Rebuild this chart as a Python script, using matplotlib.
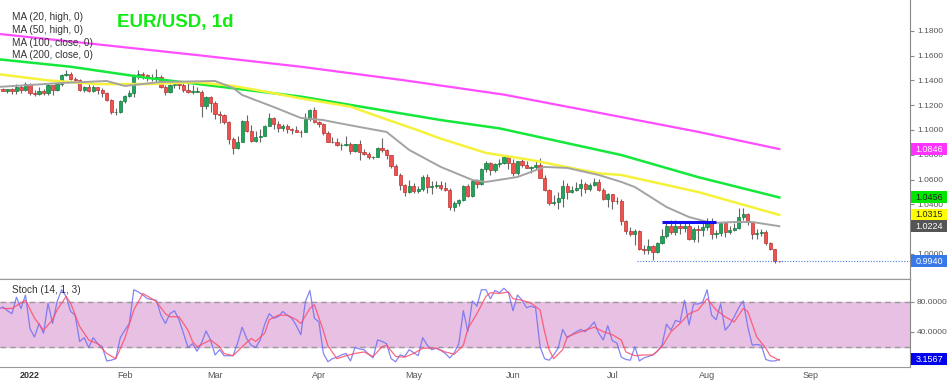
import matplotlib.pyplot as plt
import matplotlib.transforms as mtransforms
from matplotlib.patches import Rectangle
import pandas as pd

plt.rcParams['font.family'] = ['Liberation Sans', 'DejaVu Sans']

# daily bars, 23 Dec 2021 -> 23 Aug 2022 (weekdays only)
dates = pd.bdate_range('2021-12-23', '2022-08-23')

opens = [1.1329, 1.1328, 1.1318, 1.1329, 1.1311, 1.1350, 1.1326,
         1.1370, 1.1297, 1.1287, 1.1313, 1.1296, 1.1360, 1.1326,
         1.1369, 1.1442, 1.1454, 1.1413, 1.1405, 1.1325, 1.1343,
         1.1311, 1.1344, 1.1325, 1.1302, 1.1240, 1.1143, 1.1146,
         1.1235, 1.1273, 1.1302, 1.1440, 1.1455, 1.1441, 1.1416,
         1.1421, 1.1425, 1.1349, 1.1307, 1.1359, 1.1374, 1.1360,
         1.1322, 1.1308, 1.1308, 1.1310, 1.1192, 1.1267, 1.1218,
         1.1126, 1.1120, 1.1064, 1.0930, 1.0856, 1.0903, 1.1074,
         1.0989, 1.0913, 1.0942, 1.0955, 1.1036, 1.1094, 1.1051,
         1.1015, 1.1031, 1.1004, 1.0998, 1.0984, 1.0983, 1.1086,
         1.1159, 1.1067, 1.1046, 1.0972, 1.0904, 1.0900, 1.0877,
         1.0877, 1.0886, 1.0830, 1.0888, 1.0825, 1.0807, 1.0780,
         1.0786, 1.0853, 1.0836, 1.0797, 1.0713, 1.0640, 1.0559,
         1.0500, 1.0545, 1.0507, 1.0524, 1.0620, 1.0540, 1.0550,
         1.0560, 1.0530, 1.0513, 1.0380, 1.0410, 1.0437, 1.0550,
         1.0465, 1.0585, 1.0562, 1.0689, 1.0735, 1.0677, 1.0725,
         1.0735, 1.0780, 1.0733, 1.0650, 1.0750, 1.0719, 1.0697,
         1.0705, 1.0717, 1.0615, 1.0518, 1.0410, 1.0420, 1.0448,
         1.0550, 1.0496, 1.0512, 1.0535, 1.0567, 1.0522, 1.0554,
         1.0583, 1.0519, 1.0442, 1.0484, 1.0425, 1.0424, 1.0266,
         1.0182, 1.0160, 1.0185, 1.0041, 1.0036, 1.0061, 1.0018,
         1.0087, 1.0143, 1.0226, 1.0180, 1.0229, 1.0210, 1.0223,
         1.0117, 1.0198, 1.0197, 1.0221, 1.0260, 1.0163, 1.0168,
         1.0247, 1.0181, 1.0197, 1.0211, 1.0298, 1.0320, 1.0259,
         1.0160, 1.0169, 1.0177, 1.0088, 1.0038, 0.9942]
highs = [1.1342, 1.1340, 1.1333, 1.1340, 1.1369, 1.1365, 1.1385,
         1.1375, 1.1320, 1.1346, 1.1332, 1.1368, 1.1365, 1.1375,
         1.1450, 1.1482, 1.1464, 1.1430, 1.1412, 1.1355, 1.1370,
         1.1363, 1.1350, 1.1335, 1.1306, 1.1246, 1.1175, 1.1240,
         1.1285, 1.1320, 1.1450, 1.1480, 1.1470, 1.1450, 1.1448,
         1.1495, 1.1440, 1.1360, 1.1370, 1.1395, 1.1392, 1.1375,
         1.1395, 1.1360, 1.1345, 1.1325, 1.1275, 1.1270, 1.1230,
         1.1150, 1.1125, 1.1075, 1.0945, 1.0950, 1.1078, 1.1121,
         1.1044, 1.0990, 1.1005, 1.1044, 1.1137, 1.1105, 1.1070,
         1.1045, 1.1045, 1.1015, 1.1035, 1.1000, 1.1137, 1.1170,
         1.1185, 1.1076, 1.1053, 1.0990, 1.0940, 1.0938, 1.0895,
         1.0952, 1.0902, 1.0890, 1.0923, 1.0845, 1.0820, 1.0790,
         1.0860, 1.0936, 1.0850, 1.0800, 1.0724, 1.0650, 1.0566,
         1.0593, 1.0570, 1.0545, 1.0640, 1.0642, 1.0590, 1.0590,
         1.0585, 1.0577, 1.0530, 1.0425, 1.0440, 1.0560, 1.0565,
         1.0600, 1.0605, 1.0695, 1.0748, 1.0740, 1.0735, 1.0765,
         1.0787, 1.0785, 1.0765, 1.0752, 1.0765, 1.0752, 1.0712,
         1.0750, 1.0774, 1.0635, 1.0523, 1.0475, 1.0500, 1.0600,
         1.0570, 1.0545, 1.0583, 1.0605, 1.0580, 1.0572, 1.0615,
         1.0605, 1.0530, 1.0488, 1.0486, 1.0463, 1.0440, 1.0275,
         1.0220, 1.0200, 1.0190, 1.0070, 1.0122, 1.0072, 1.0097,
         1.0200, 1.0270, 1.0272, 1.0278, 1.0257, 1.0258, 1.0247,
         1.0217, 1.0234, 1.0253, 1.0293, 1.0294, 1.0195, 1.0255,
         1.0253, 1.0222, 1.0248, 1.0368, 1.0368, 1.0328, 1.0260,
         1.0202, 1.0202, 1.0190, 1.0096, 1.0040, 0.9944]
lows = [1.1300, 1.1315, 1.1300, 1.1289, 1.1294, 1.1300, 1.1316,
        1.1285, 1.1272, 1.1285, 1.1285, 1.1286, 1.1285, 1.1314,
        1.1356, 1.1434, 1.1400, 1.1385, 1.1315, 1.1310, 1.1305,
        1.1305, 1.1290, 1.1262, 1.1236, 1.1130, 1.1121, 1.1138,
        1.1220, 1.1265, 1.1266, 1.1412, 1.1410, 1.1395, 1.1398,
        1.1377, 1.1340, 1.1280, 1.1297, 1.1340, 1.1330, 1.1307,
        1.1300, 1.1290, 1.1305, 1.1106, 1.1170, 1.1144, 1.1090,
        1.1060, 1.1050, 1.0885, 1.0806, 1.0850, 1.0903, 1.0980,
        1.0906, 1.0900, 1.0905, 1.0952, 1.1030, 1.1010, 1.0985,
        1.0995, 1.0975, 1.0964, 1.0980, 1.0945, 1.0980, 1.1070,
        1.1060, 1.1027, 1.0962, 1.0900, 1.0893, 1.0871, 1.0837,
        1.0868, 1.0810, 1.0822, 1.0757, 1.0800, 1.0764, 1.0762,
        1.0780, 1.0825, 1.0770, 1.0697, 1.0635, 1.0515, 1.0470,
        1.0490, 1.0490, 1.0493, 1.0504, 1.0492, 1.0485, 1.0530,
        1.0520, 1.0510, 1.0354, 1.0349, 1.0390, 1.0430, 1.0460,
        1.0461, 1.0530, 1.0560, 1.0660, 1.0640, 1.0660, 1.0700,
        1.0725, 1.0683, 1.0627, 1.0640, 1.0700, 1.0690, 1.0655,
        1.0680, 1.0610, 1.0510, 1.0398, 1.0395, 1.0359, 1.0380,
        1.0445, 1.0490, 1.0505, 1.0470, 1.0490, 1.0510, 1.0545,
        1.0510, 1.0435, 1.0382, 1.0365, 1.0402, 1.0235, 1.0162,
        1.0143, 1.0072, 1.0033, 0.9998, 0.9998, 0.9952, 1.0007,
        1.0080, 1.0125, 1.0160, 1.0153, 1.0160, 1.0180, 1.0110,
        1.0100, 1.0097, 1.0145, 1.0197, 1.0123, 1.0125, 1.0148,
        1.0140, 1.0158, 1.0185, 1.0200, 1.0272, 1.0235, 1.0124,
        1.0122, 1.0148, 1.0075, 1.0034, 0.9928, 0.9938]
closes = [1.1328, 1.1318, 1.1329, 1.1311, 1.1350, 1.1326, 1.1370,
          1.1297, 1.1287, 1.1313, 1.1296, 1.1360, 1.1326, 1.1369,
          1.1442, 1.1454, 1.1413, 1.1405, 1.1325, 1.1343, 1.1311,
          1.1344, 1.1325, 1.1302, 1.1240, 1.1143, 1.1146, 1.1235,
          1.1273, 1.1302, 1.1440, 1.1455, 1.1441, 1.1416, 1.1421,
          1.1425, 1.1349, 1.1307, 1.1359, 1.1374, 1.1360, 1.1322,
          1.1308, 1.1308, 1.1310, 1.1192, 1.1267, 1.1218, 1.1126,
          1.1120, 1.1064, 1.0930, 1.0856, 1.0903, 1.1074, 1.0989,
          1.0913, 1.0942, 1.0955, 1.1036, 1.1094, 1.1051, 1.1015,
          1.1031, 1.1004, 1.0998, 1.0984, 1.0983, 1.1086, 1.1159,
          1.1067, 1.1046, 1.0972, 1.0904, 1.0900, 1.0877, 1.0877,
          1.0886, 1.0830, 1.0888, 1.0825, 1.0807, 1.0780, 1.0786,
          1.0853, 1.0836, 1.0797, 1.0713, 1.0640, 1.0559, 1.0500,
          1.0545, 1.0507, 1.0524, 1.0620, 1.0540, 1.0550, 1.0560,
          1.0530, 1.0513, 1.0380, 1.0410, 1.0437, 1.0550, 1.0465,
          1.0585, 1.0562, 1.0689, 1.0735, 1.0677, 1.0725, 1.0735,
          1.0780, 1.0733, 1.0650, 1.0750, 1.0719, 1.0697, 1.0705,
          1.0717, 1.0615, 1.0518, 1.0410, 1.0420, 1.0448, 1.0550,
          1.0496, 1.0512, 1.0535, 1.0567, 1.0522, 1.0554, 1.0583,
          1.0519, 1.0442, 1.0484, 1.0425, 1.0424, 1.0266, 1.0182,
          1.0160, 1.0185, 1.0041, 1.0036, 1.0061, 1.0018, 1.0087,
          1.0143, 1.0226, 1.0180, 1.0229, 1.0210, 1.0223, 1.0117,
          1.0198, 1.0197, 1.0221, 1.0260, 1.0163, 1.0168, 1.0247,
          1.0181, 1.0197, 1.0211, 1.0298, 1.0320, 1.0259, 1.0160,
          1.0169, 1.0177, 1.0088, 1.0038, 0.9942, 0.9940]

# moving averages (bar index -> value)
ma20_idx = [0, 14, 24, 28, 36, 48, 52, 54, 61, 67, 72, 74, 80, 86, 91,
            98, 105, 108, 115, 121, 126, 133, 138, 141, 148, 153, 158, 163, 167, 173]
ma20 = [1.1347, 1.1379, 1.1395, 1.1355, 1.1387, 1.1395, 1.1339, 1.1282, 1.1185,
        1.1097, 1.1080, 1.1065, 1.1024, 1.0984, 1.0839, 1.0702, 1.0597, 1.0581,
        1.0621, 1.0702, 1.0694, 1.0637, 1.0581, 1.0540, 1.0379, 1.0298, 1.0250,
        1.0258, 1.0258, 1.0224]
ma50_idx = [0, 11, 22, 33, 44, 52, 59, 67, 78, 86, 92, 98, 108, 118, 133, 138, 155, 173]
ma50 = [1.1450, 1.1400, 1.1370, 1.1370, 1.1385, 1.1355, 1.1310, 1.1255, 1.1188,
        1.1085, 1.1010, 1.0930, 1.0815, 1.0758, 1.0650, 1.0637, 1.0500, 1.0315]
ma100_idx = [0, 16, 33, 50, 67, 98, 111, 138, 155, 173]
ma100 = [1.1570, 1.1510, 1.1420, 1.1345, 1.1269, 1.1080, 1.1013, 1.0798, 1.0620, 1.0456]
ma200_idx = [0, 22, 45, 67, 90, 112, 135, 155, 173]
ma200 = [1.1775, 1.1690, 1.1600, 1.1510, 1.1400, 1.1285, 1.1125, 1.0985, 1.0846]

# stochastic %K per bar, %D read at points
stoch_k = [70, 73, 68, 64, 86, 71, 89, 44, 33, 51,
           38, 78, 51, 80, 96, 87, 67, 62, 27, 32,
           19, 32, 24, 20, 1, 2, 4, 32, 42, 51,
           96, 93, 89, 84, 83, 82, 62, 51, 64, 68,
           56, 38, 19, 24, 14, 25, 41, 29, 9, 16,
           8, 8, 8, 25, 46, 31, 22, 19, 29, 50,
           64, 58, 60, 67, 62, 58, 48, 36, 80, 95,
           58, 53, 11, 0, 4, 6, 9, 11, 1, 19,
           17, 16, 10, 5, 29, 27, 24, 4, 0, 9,
           7, 16, 12, 8, 32, 22, 16, 18, 15, 11,
           5, 12, 24, 68, 40, 81, 74, 96, 96, 84,
           95, 92, 98, 92, 68, 89, 82, 72, 74, 72,
           20, 4, 2, 9, 18, 43, 32, 36, 40, 43,
           40, 46, 53, 38, 29, 48, 28, 25, 6, 3,
           2, 20, 1, 5, 7, 9, 14, 22, 50, 42,
           55, 53, 82, 49, 77, 77, 79, 96, 62, 56,
           77, 42, 49, 60, 72, 81, 47, 22, 23, 22,
           3, 1, 1, 3.1567]
stoch_d_idx = [1, 3, 6, 8, 10, 12, 13, 15, 16, 18,
               20, 22, 24, 26, 28, 30, 32, 34, 35, 37,
               38, 40, 42, 43, 44, 47, 49, 50, 52, 54,
               56, 57, 59, 60, 62, 64, 66, 67, 69, 70,
               72, 73, 75, 77, 79, 81, 83, 85, 86, 88,
               90, 92, 94, 97, 99, 101, 103, 104, 106, 108,
               109, 111, 113, 114, 116, 118, 120, 121, 122, 123,
               125, 126, 128, 130, 132, 134, 136, 138, 139, 141,
               143, 145, 147, 149, 151, 153, 155, 157, 159, 161,
               163, 165, 166, 168, 170, 171, 173]
stoch_d = [71, 71, 82, 58, 42, 56, 69, 87, 78, 47,
           29, 24, 11, 4, 31, 69, 91, 84, 80, 64,
           60, 60, 42, 27, 20, 29, 20, 11, 8, 20,
           31, 27, 38, 56, 62, 62, 56, 51, 71, 76,
           41, 21, 4, 8, 11, 13, 7, 20, 22, 7,
           6, 11, 18, 18, 13, 10, 22, 44, 64, 87,
           92, 91, 93, 84, 82, 78, 69, 40, 16, 4,
           16, 33, 38, 42, 46, 40, 36, 29, 13, 8,
           9, 9, 20, 40, 51, 64, 69, 84, 69, 60,
           53, 71, 67, 33, 18, 8, 2]

price_ticks = [1.00, 1.02, 1.04, 1.06, 1.08, 1.10, 1.12, 1.14, 1.16, 1.18]
# 1.0200 sits fully under the grey MA badge in the reference
price_labels = ['1.0000', '', '1.0400', '1.0600', '1.0800', '1.1000',
                '1.1200', '1.1400', '1.1600', '1.1800']

W, H = 950, 383
fig = plt.figure(figsize=(W / 100, H / 100), dpi=100)
ax = fig.add_axes([0, 104 / H, 910 / W, 279 / H])
ax2 = fig.add_axes([0, 16 / H, 910 / W, 88 / H])

idx = list(range(len(closes)))
x_lo, x_hi = 0.354, 201.95

# candles
up = [c >= o for o, c in zip(opens, closes)]
body_col = ['#22a35a' if u else '#f0524f' for u in up]
edge_col = ['#137a3e' if u else '#b83330' for u in up]
bottoms = [min(o, c) for o, c in zip(opens, closes)]
heights = [max(abs(c - o), 0.0003) for o, c in zip(opens, closes)]
ax.vlines(idx, lows, highs, colors='#666666', linewidth=0.8, zorder=2)
ax.bar(idx, heights, bottom=bottoms, width=0.72, color=body_col,
       edgecolor=edge_col, linewidth=0.5, zorder=3)

# moving averages
ax.plot(ma200_idx, ma200, color='#ff4dff', lw=1.6, zorder=4)
ax.plot(ma100_idx, ma100, color='#14e83a', lw=1.8, zorder=4)
ax.plot(ma50_idx, ma50, color='#f4f23a', lw=1.8, zorder=4)
ax.plot(ma20_idx, ma20, color='#a3a3a3', lw=1.4, zorder=4)

# drawn resistance and last price line
ax.hlines(1.0258, 147.0, 159.0, colors='#1010f0', lw=2.2, zorder=5)
ax.hlines(closes[-1], 141.5, x_hi, colors='#4a7be8', lw=0.8,
          linestyles=(0, (1, 1.5)), zorder=5)

ax.set_xlim(x_lo, x_hi)
ax.set_ylim(0.97984, 1.2048)
ax.set_xticks([])
ax.yaxis.tick_right()
ax.set_yticks(price_ticks)
ax.set_yticklabels(price_labels)
ax.tick_params(axis='y', length=3, color='#888888', labelsize=6, labelcolor='#555555', pad=2)
for s in ['top', 'left']:
    ax.spines[s].set_visible(False)
ax.spines['right'].set_color('#888888')
ax.spines['bottom'].set_color('#9a9a9a')
ax.spines['right'].set_linewidth(0.8)
ax.spines['bottom'].set_linewidth(1.0)

# stochastic panel
ax2.axhspan(20, 80, color='#e7c0e3', zorder=1)
ax2.axhline(80, color='#9a9a9a', lw=1.0, ls=(0, (4, 3)), zorder=2)
ax2.axhline(20, color='#9a9a9a', lw=1.0, ls=(0, (4, 3)), zorder=2)
ax2.plot(idx, stoch_k, color='#6f6ff2', lw=0.9, alpha=0.85, zorder=3)
ax2.plot(stoch_d_idx, stoch_d, color='#ff4d6a', lw=0.9, alpha=0.85, zorder=4)
ax2.set_xlim(x_lo, x_hi)
ax2.set_ylim(-7.07, 110.3)
ax2.yaxis.tick_right()
ax2.set_yticks([40, 80])
ax2.set_yticklabels(['40.0000', '80.0000'])
ax2.tick_params(axis='y', length=3, color='#888888', labelsize=6, labelcolor='#555555', pad=2)
ax2.spines['left'].set_visible(False)
for s in ['right', 'top', 'bottom']:
    ax2.spines[s].set_color('#9a9a9a')
ax2.spines['right'].set_color('#888888')
ax2.spines['right'].set_linewidth(0.8)

# month labels
full = pd.bdate_range('2021-12-23', '2022-09-30')
tick_pos, tick_lab = [], []
for m in range(1, 10):
    first = [i for i, d in enumerate(full) if d.year == 2022 and d.month == m][0]
    tick_pos.append(first)
    tick_lab.append('2022' if m == 1 else full[first].strftime('%b'))
ax2.set_xticks(tick_pos)
ax2.set_xticklabels(tick_lab)
ax2.tick_params(axis='x', length=0, pad=3, labelsize=6.5, labelcolor='#555555')
ax2.get_xticklabels()[0].set_fontweight('bold')
ax2.get_xticklabels()[0].set_color('#333333')


def badge(axis, value, text, fc, tc, unit_h):
    trans = mtransforms.blended_transform_factory(fig.transFigure, axis.transData)
    axis.add_patch(Rectangle((911 / W, value - unit_h / 2), 36 / W, unit_h, transform=trans,
                             facecolor=fc, edgecolor='none', clip_on=False, zorder=10))
    axis.text(929 / W, value, text, transform=trans, ha='center', va='center',
              fontsize=6.5, color=tc, clip_on=False, zorder=11)


px = 12 / 1240
badge(ax, ma200[-1], '%.4f' % ma200[-1], '#ff33ff', 'white', px)
badge(ax, ma100[-1], '%.4f' % ma100[-1], '#00e600', '#222222', px)
badge(ax, ma50[-1], '%.4f' % ma50[-1], '#ffff00', '#222222', px)
badge(ax, ma20[-1], '%.4f' % ma20[-1], '#555555', 'white', px)
badge(ax, closes[-1], '%.4f' % closes[-1], '#3779e8', 'white', px)
badge(ax2, stoch_k[-1], '%.4f' % stoch_k[-1], '#0000ee', 'white', 12 / 0.75)

# legend / titles
legend = ['MA (20, high, 0)', 'MA (50, high, 0)', 'MA (100, close, 0)', 'MA (200, close, 0)']
for t, yp in zip(legend, [17, 30, 43, 55]):
    fig.text(12 / W, 1 - yp / H, t, fontsize=7.2, color='#333333', va='center')
fig.text(117 / W, 1 - 22 / H, 'EUR/USD, 1d', fontsize=13.5, fontweight='bold',
         color='#13ea13', va='center')
fig.text(12 / W, 1 - 290 / H, 'Stoch (14, 1, 3)', fontsize=7.2, color='#333333', va='center')

fig.savefig('out.png', dpi=100)
